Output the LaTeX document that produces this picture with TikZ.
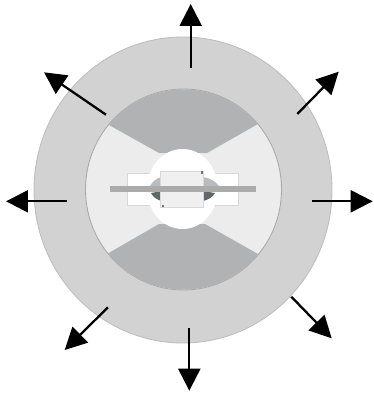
\documentclass[tikz,border=0pt]{standalone}
\usepackage{xcolor}
\usetikzlibrary{arrows.meta}

\definecolor{ringgray}{HTML}{D2D2D2}
\definecolor{ringedge}{HTML}{BEBEBE}
\definecolor{sectorgray}{HTML}{B0B2B4}
\definecolor{sectorlight}{HTML}{ECECEC}
\definecolor{innerline}{HTML}{A9A9A9}
\definecolor{lampline}{HTML}{D8D8D8}
\definecolor{lampbody}{HTML}{F0F0F0}
\definecolor{rodgray}{HTML}{ABABAB}
\definecolor{capupper}{HTML}{B8BCBE}
\definecolor{caplower}{HTML}{62676A}

\tikzset{
    flux/.style={line width=1.3pt, -{Triangle[length=12.5pt,width=12.5pt]}},
    lampbox/.style={draw=lampline, line width=0.5pt}
}

\begin{document}
\begin{tikzpicture}[x=0.02cm,y=-0.02cm]

        % Page
        \useasboundingbox (0,0) rectangle (374,395);

        % Outer ring
        \draw[ringedge, fill=ringgray, line width=0.5pt] (183,190) ellipse (149 and 153);

        % Inner disc
        \draw[innerline, fill=sectorlight, line width=0.5pt] (183.5,189.5) ellipse (98 and 100.5);

        % Dark sectors
        \begin{scope}
            \clip (183.5,189.5) ellipse (97.6 and 100.1);
            \fill[sectorgray] (159,153) -- (100,120) -- (100,80) -- (265,80) -- (265,120) -- (207,153) -- cycle;
            \fill[sectorgray] (159,224) -- (100,258) -- (100,300) -- (265,300) -- (265,258) -- (205,224) -- cycle;
        \end{scope}

        % Lamp housing
        \draw[lampbox, fill=white] (127.5,173.5) rectangle (238,205);

        % Centre opening
        \fill[white] (182.5,189) ellipse (35.5 and 40);

        % Reflector caps
        \fill[capupper] (150,186) .. controls (153,181) and (157,178) .. (162,177) -- (162,186) -- cycle;
        \fill[capupper] (219,186) .. controls (215,181) and (210,178) .. (203,177) -- (203,186) -- cycle;
        \fill[caplower] (151,193) .. controls (153,197) and (157,200) .. (162,201) -- (162,191) -- cycle;
        \fill[caplower] (215,193) .. controls (213,197) and (208,200) .. (203,201) -- (203,191) -- cycle;

        % Lamp body
        \draw[lampbox, fill=lampbody] (160,171) rectangle (203,207);

        % Rod
        \fill[rodgray] (109.5,186) rectangle (256,191.5);

        % Small dots
        \fill[black!55] (200.5,171) rectangle (202.5,173.5);
        \fill[black!55] (161.5,205) rectangle (164,207);

        % Outgoing arrows
        \coordinate (topin) at (190.7,67.7);
        \coordinate (topout) at (190.7,4);
        \coordinate (ulin) at (106,114.7);
        \coordinate (ulout) at (44,72.3);
        \coordinate (urin) at (297.3,114);
        \coordinate (urout) at (338.7,71.7);
        \coordinate (rightin) at (312,201.3);
        \coordinate (rightout) at (372.7,201.3);
        \coordinate (lrin) at (291.3,296.7);
        \coordinate (lrout) at (331.7,338.3);
        \coordinate (botin) at (189.3,328);
        \coordinate (botout) at (189.3,390.7);
        \coordinate (llin) at (108,307.3);
        \coordinate (llout) at (64.7,350);
        \coordinate (leftin) at (67,201.3);
        \coordinate (leftout) at (6,201.3);

        \draw[flux] (topin) -- (topout);
        \draw[flux] (ulin) -- (ulout);
        \draw[flux] (urin) -- (urout);
        \draw[flux] (rightin) -- (rightout);
        \draw[flux] (lrin) -- (lrout);
        \draw[flux] (botin) -- (botout);
        \draw[flux] (llin) -- (llout);
        \draw[flux] (leftin) -- (leftout);

    \end{tikzpicture}
\end{document}
